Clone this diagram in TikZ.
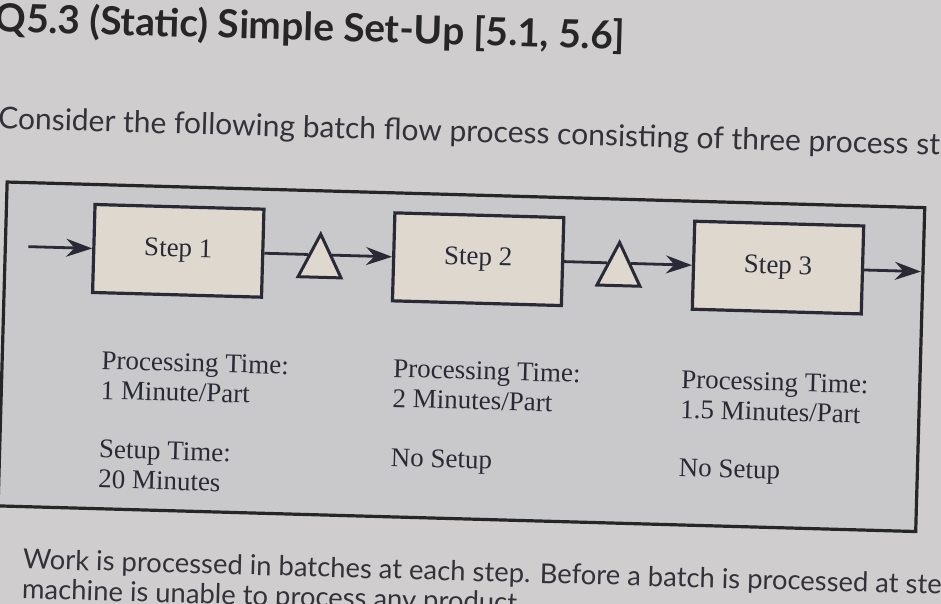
\documentclass[tikz,border=0pt]{standalone}
\usepackage{fontspec}
\setmainfont{Liberation Serif}
\newfontfamily\headFont{Lato}
\usetikzlibrary{arrows.meta,shapes.geometric}
\definecolor{pageGray}{RGB}{207,205,205}
\definecolor{frameGray}{RGB}{201,201,203}
\definecolor{stepFill}{RGB}{222,216,207}
\definecolor{inkGray}{RGB}{42,42,54}
\definecolor{proseGray}{RGB}{50,50,56}
\newcommand{\tiltAngle}{-1.6}
\newcommand{\flowY}{259}
\newcommand{\infoFont}{\fontsize{13.5}{15}\selectfont}

\begin{document}
\begin{tikzpicture}[x=0.5pt, y=-0.5pt,
  stepbox/.style={draw=inkGray, line width=1.6pt, fill=stepFill, minimum width=84.5pt, minimum height=44pt, font=\infoFont, text=inkGray},
  buffer/.style={draw=inkGray, line width=1.5pt, fill=stepFill, isosceles triangle, isosceles triangle apex angle=53, shape border rotate=90, minimum width=21.5pt, minimum height=21.5pt, inner sep=0pt},
  flow/.style={draw=inkGray, line width=1.4pt, -{Stealth[length=13pt,width=9pt]}},
  info/.style={anchor=north west, align=left, inner sep=0pt, font=\infoFont, text=inkGray},
  prose/.style={anchor=base west, inner sep=0pt, font=\headFont\fontsize{15}{17}\selectfont, text=proseGray}]
\useasboundingbox[fill=pageGray] (0,0) rectangle (941,604);

\begin{scope}[rotate around={\tiltAngle:(470,300)}, transform shape]
\node[prose, font=\headFont\bfseries\fontsize{19.4}{22}\selectfont, text=black!85] (title) at (-13,45) {Q5.3 (Static) Simple Set-Up [5.1, 5.6]};
\node[prose] (intro) at (-7,142) {Consider the following batch flow process consisting of three process st};

\draw[draw=black!85, line width=1.6pt, fill=frameGray] (4,195) rectangle (922,519);

\node[stepbox] (step1) at (177,\flowY) {Step 1};
\node[stepbox] (step2) at (477,\flowY) {Step 2};
\node[stepbox] (step3) at (777,\flowY) {Step 3};
\node[buffer, anchor=left side] (buffer1) at (307,\flowY) {};
\node[buffer, anchor=left side] (buffer2) at (606,\flowY) {};
\coordinate (inflow) at (27,\flowY);
\coordinate (outflow) at (920,\flowY);

\draw[flow] (inflow) -- (step1);
\draw[draw=inkGray, line width=1.4pt] (step1) -- (buffer1.left side);
\draw[flow] (buffer1.right side) -- (step2);
\draw[draw=inkGray, line width=1.4pt] (step2) -- (buffer2.left side);
\draw[flow] (buffer2.right side) -- (step3);
\draw[flow] (step3) -- (outflow);

\node[info] (proc1) at (103,361) {Processing Time:\\1 Minute/Part};
\node[info] (proc2) at (395,361) {Processing Time:\\2 Minutes/Part};
\node[info] (proc3) at (683,364) {Processing Time:\\1.5 Minutes/Part};
\node[info] (setup1) at (103,450) {Setup Time:\\20 Minutes};
\node[info] (setup2) at (395,450) {No Setup};
\node[info] (setup3) at (683,452) {No Setup};

\node[prose, font=\headFont\fontsize{13.7}{15}\selectfont] (work) at (30,581) {Work is processed in batches at each step. Before a batch is processed at ste};
\node[prose, font=\headFont\fontsize{13.7}{15}\selectfont] (machine) at (30,611) {machine is unable to process any product};
\end{scope}
\end{tikzpicture}
\end{document}
